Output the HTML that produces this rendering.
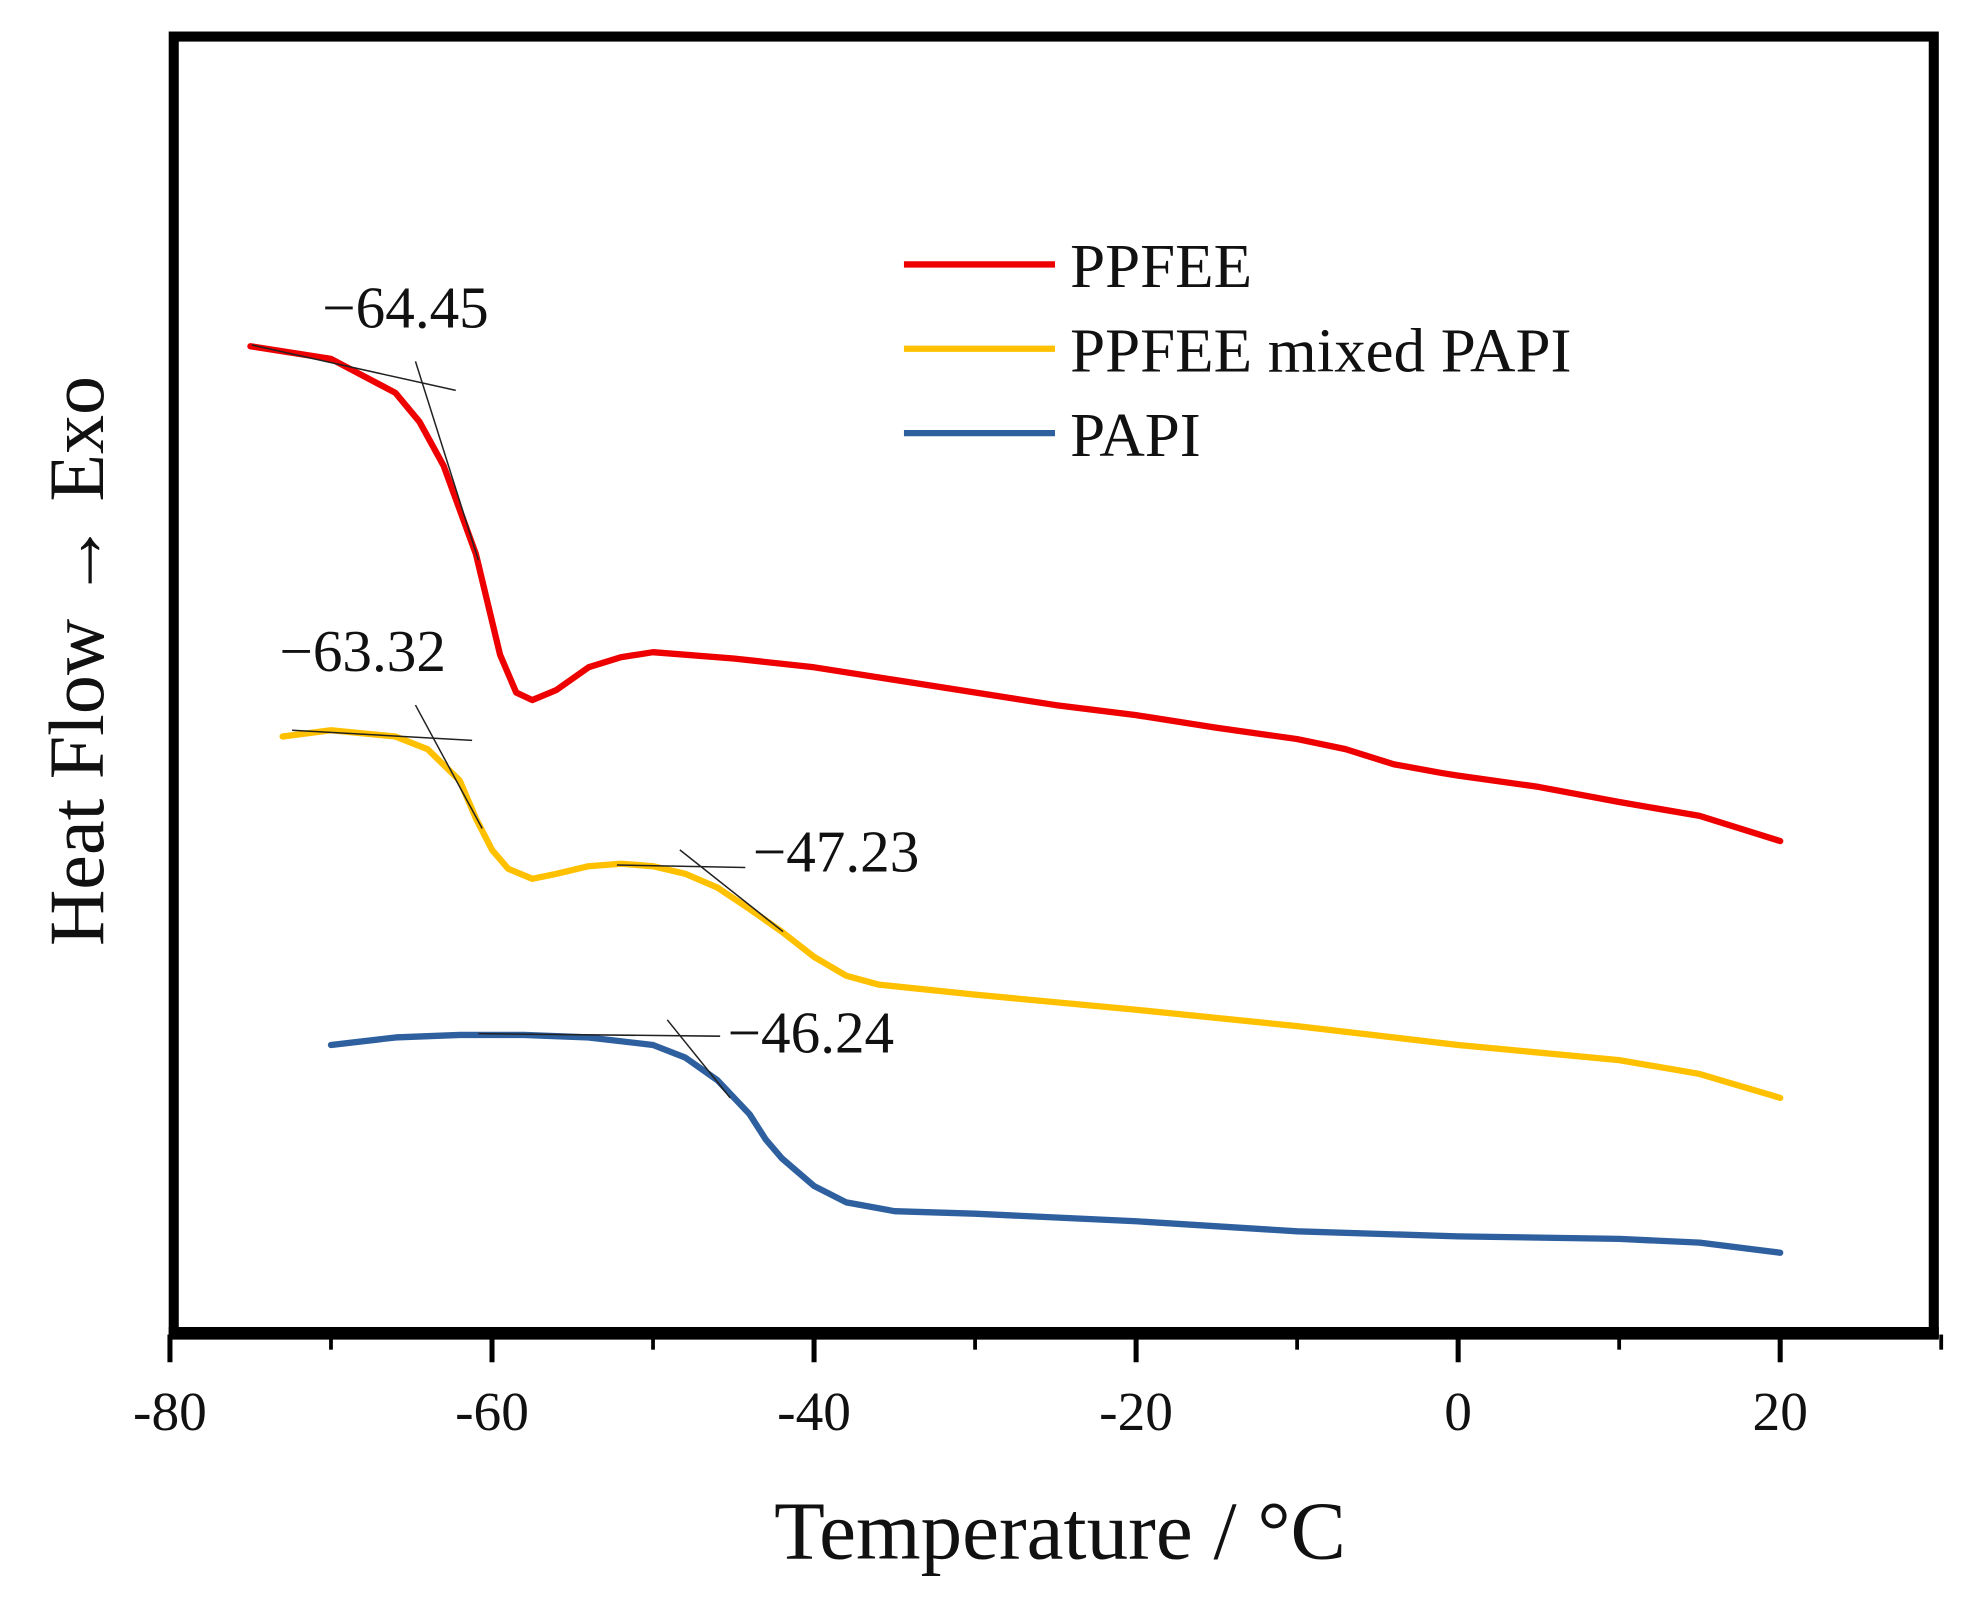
<!DOCTYPE html>
<html><head><meta charset="utf-8"><style>
html,body{margin:0;padding:0;background:#fff;}
svg{display:block;}
text{font-family:"Liberation Serif",serif;fill:#111;}
</style></head><body>
<svg id="chart" width="1964" height="1599" viewBox="0 0 1560 1270" xmlns="http://www.w3.org/2000/svg">
<rect x="0" y="0" width="1560" height="1270" fill="#fff"/>
<g id="plot"></g>
<rect x="138" y="29" width="1398" height="1030" fill="none" stroke="#000" stroke-width="8"/>
<line x1="134" y1="1059" x2="1540" y2="1059" stroke="#000" stroke-width="10"/>
<g id="xticks"></g>
<text x="842" y="1238" font-size="66" text-anchor="middle">Temperature / °C</text>
<text transform="translate(82,525) rotate(-90)" font-size="62" text-anchor="middle">Heat Flow → Exo</text>
<g>
<line x1="718" y1="210" x2="838" y2="210" stroke="#ee0000" stroke-width="5"/>
<text x="850" y="228" font-size="50">PPFEE</text>
<line x1="718" y1="277" x2="838" y2="277" stroke="#ffc000" stroke-width="5"/>
<text x="850" y="295" font-size="50">PPFEE mixed PAPI</text>
<line x1="718" y1="344" x2="838" y2="344" stroke="#2e5f9e" stroke-width="5"/>
<text x="850" y="362" font-size="50">PAPI</text>
</g>
<g stroke="#222" stroke-width="1.2">
<line x1="200" y1="274" x2="362" y2="310"/><line x1="330" y1="287" x2="380" y2="445"/>
<line x1="232" y1="580" x2="375" y2="588"/><line x1="330" y1="560" x2="383" y2="658"/>
<line x1="490" y1="687" x2="592" y2="689"/><line x1="540" y1="675" x2="622" y2="740"/>
<line x1="380" y1="821" x2="572" y2="823"/><line x1="530" y1="810" x2="580" y2="872"/>
</g>
<text x="256" y="260" font-size="47">−64.45</text>
<text x="222" y="533" font-size="47">−63.32</text>
<text x="598" y="692" font-size="47">−47.23</text>
<text x="578" y="836" font-size="47">−46.24</text>
</svg>
<script>
const xTicks = [-80, -60, -40, -20, 0, 20];
const xMinor = [-70, -50, -30, -10, 10, 30];
const ppfeeT = [-75,-70,-66,-64.5,-63,-61,-59.5,-58.5,-57.5,-56,-54,-52,-50,-45,-40,-35,-30,-25,-20,-15,-10,-7,-4,-1,0,5,10,15,20];
const ppfeeV = [78.5,77.5,74.8,72.5,69,62,54,51,50.4,51.2,53,53.8,54.2,53.7,53,52,51,50,49.2,48.2,47.3,46.5,45.3,44.6,44.4,43.5,42.3,41.2,39.2];
const mixedT = [-73,-70,-66,-64,-62,-61,-60,-59,-57.5,-56,-54,-52,-50,-48,-46,-44,-42,-40,-38,-36,-30,-20,-10,0,10,15,20];
const mixedV = [47.5,48,47.5,46.5,44,41,38.5,37,36.2,36.6,37.2,37.4,37.2,36.6,35.5,33.8,32,30,28.5,27.8,27,25.8,24.5,23,21.8,20.7,18.8];
const papiT = [-70,-66,-62,-58,-54,-50,-48,-46,-44,-43,-42,-40,-38,-35,-30,-20,-10,0,10,15,20];
const papiV = [23,23.6,23.8,23.8,23.6,23,22,20.2,17.5,15.5,14,11.8,10.5,9.8,9.6,9,8.2,7.8,7.6,7.3,6.5];
function xs(t){return 135 + (t + 80) * 12.79;}
function ys(v){return 1060 - v * 10;}
const ns = "http://www.w3.org/2000/svg";
const plot = document.getElementById('plot');
function series(T, V, color, name){
  const p = document.createElementNS(ns, 'path');
  p.setAttribute('d', T.map((t,i)=>(i?'L':'M')+xs(t).toFixed(1)+' '+ys(V[i]).toFixed(1)).join(' '));
  p.setAttribute('fill','none');
  p.setAttribute('stroke',color);
  p.setAttribute('stroke-width','5');
  p.setAttribute('stroke-linejoin','round');
  p.setAttribute('stroke-linecap','round');
  
  
  plot.appendChild(p);
}
series(ppfeeT, ppfeeV, '#ee0000', 'series-ppfee');
series(mixedT, mixedV, '#ffc000', 'series-ppfee-mixed-papi');
series(papiT, papiV, '#2e5f9e', 'series-papi');
const xt = document.getElementById('xticks');
xTicks.forEach(t=>{
  const l = document.createElementNS(ns,'line');
  l.setAttribute('x1',xs(t)); l.setAttribute('x2',xs(t));
  l.setAttribute('y1',1060); l.setAttribute('y2',1082);
  l.setAttribute('stroke','#000'); l.setAttribute('stroke-width','4');
  
  
  xt.appendChild(l);
  const tx = document.createElementNS(ns,'text');
  tx.setAttribute('x',xs(t)); tx.setAttribute('y',1136);
  tx.setAttribute('font-size','44'); tx.setAttribute('text-anchor','middle');
  tx.textContent = String(t);
  
  
  xt.appendChild(tx);
});
xMinor.forEach(t=>{
  const l = document.createElementNS(ns,'line');
  l.setAttribute('x1',xs(t)); l.setAttribute('x2',xs(t));
  l.setAttribute('y1',1060); l.setAttribute('y2',1072);
  l.setAttribute('stroke','#000'); l.setAttribute('stroke-width','3');
  
  
  xt.appendChild(l);
});
</script>
</body></html>
